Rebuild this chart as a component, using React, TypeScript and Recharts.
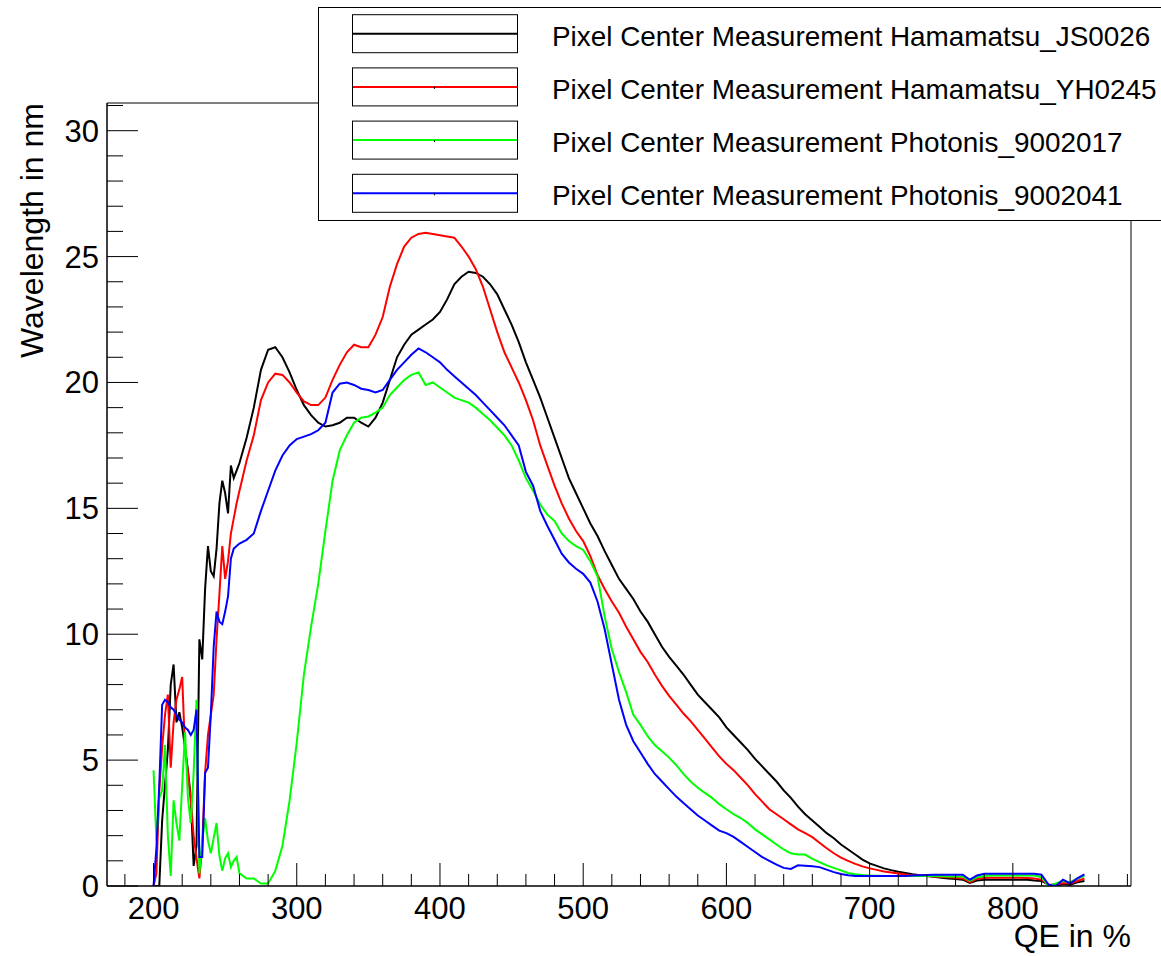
import { LineChart, Line, XAxis, YAxis, ReferenceArea, Legend } from 'recharts';

const FONT = '"Liberation Sans", Arial, Helvetica, sans-serif';

// wavelength grid (2 nm steps in the noisy UV part, 5 nm afterwards)
const wavelengths = [
  200, 202, 204, 206, 208, 210, 212, 214, 216, 218,
  220, 222, 224, 226, 228, 230, 232, 234, 236, 238,
  240, 242, 244, 246, 248, 250, 252, 254, 256, 258,
  260,
  265, 270, 275, 280, 285, 290, 295, 300, 305, 310,
  315, 320, 325, 330, 335, 340, 345, 350, 355, 360,
  365, 370, 375, 380, 385, 390, 395, 400, 405, 410,
  415, 420, 425, 430, 435, 440, 445, 450, 455, 460,
  465, 470, 475, 480, 485, 490, 495, 500, 505, 510,
  515, 520, 525, 530, 535, 540, 545, 550, 555, 560,
  565, 570, 575, 580, 585, 590, 595, 600, 605, 610,
  615, 620, 625, 630, 635, 640, 645, 650, 655, 660,
  665, 670, 675, 680, 685, 690, 695, 700, 705, 710,
  715, 720, 725, 730, 735, 740, 745, 750, 755, 760,
  765, 770, 775, 780, 785, 790, 795, 800, 805, 810,
  815, 820, 825, 830, 835, 840, 845, 850,
];

const hamamatsuJS0026 = [
  0, 0, 0, 2.6, 4.0, 5.4, 8.0, 8.8, 6.5, 6.9,
  6.3, 5.5, 4.6, 3.5, 0.8, 1.6, 9.8, 9.0, 11.8, 13.5,
  12.5, 12.3, 13.4, 15.2, 16.1, 15.6, 14.8, 16.7, 16.2, 16.5,
  16.8,
  17.8, 19.0, 20.5, 21.3, 21.4, 21.0, 20.4, 19.7, 19.1, 18.7,
  18.4, 18.25, 18.3, 18.4, 18.6, 18.6, 18.4, 18.25, 18.6, 19.2,
  20.1, 21.0, 21.5, 21.9, 22.1, 22.3, 22.5, 22.8, 23.3, 23.9,
  24.2, 24.4, 24.35, 24.2, 23.9, 23.5, 22.9, 22.3, 21.6, 20.8,
  20.1, 19.4, 18.6, 17.8, 17.0, 16.2, 15.6, 15.0, 14.4, 13.9,
  13.3, 12.75, 12.2, 11.8, 11.4, 10.9, 10.5, 10.0, 9.5, 9.1,
  8.75, 8.4, 8.0, 7.6, 7.3, 7.0, 6.7, 6.3, 6.0, 5.7,
  5.4, 5.05, 4.75, 4.45, 4.15, 3.8, 3.5, 3.15, 2.85, 2.6,
  2.35, 2.1, 1.9, 1.65, 1.45, 1.25, 1.05, 0.9, 0.8, 0.7,
  0.63, 0.57, 0.52, 0.47, 0.43, 0.4, 0.37, 0.33, 0.3, 0.28,
  0.25, 0.12, 0.22, 0.25, 0.25, 0.25, 0.25, 0.25, 0.25, 0.25,
  0.22, 0.2, 0.05, 0.0, 0.08, 0.05, 0.15, 0.2,
];

const hamamatsuYH0245 = [
  0, 0.5, 3.8, 5.5, 6.8, 7.6, 4.7, 6.5, 7.4, 7.8,
  8.3, 5.4, 4.5, 3.4, 2.0, 1.1, 0.3, 1.6, 4.5, 6.0,
  6.8, 7.6, 9.8, 11.6, 13.5, 12.2, 12.9, 14.0, 14.6, 15.2,
  15.7,
  16.9, 17.9, 19.3, 20.0, 20.35, 20.3, 20.0, 19.6, 19.25, 19.1,
  19.1, 19.4, 20.1, 20.7, 21.2, 21.5, 21.4, 21.4, 21.9, 22.6,
  23.8, 24.7, 25.4, 25.75, 25.9, 25.95, 25.9, 25.85, 25.8, 25.75,
  25.4, 25.0, 24.5, 23.8, 22.9, 22.0, 21.2, 20.6, 20.0, 19.3,
  18.5, 17.5, 16.7, 15.9, 15.2, 14.6, 14.1, 13.7, 13.1, 12.35,
  11.8, 11.3, 10.85, 10.3, 9.8, 9.3, 8.9, 8.4, 7.95, 7.55,
  7.2, 6.85, 6.55, 6.2, 5.85, 5.5, 5.15, 4.85, 4.6, 4.3,
  4.0, 3.65, 3.35, 3.05, 2.85, 2.65, 2.45, 2.25, 2.1, 1.94,
  1.72, 1.5, 1.3, 1.13, 1.0, 0.88, 0.78, 0.7, 0.64, 0.58,
  0.54, 0.5, 0.46, 0.43, 0.42, 0.4, 0.38, 0.36, 0.35, 0.33,
  0.3, 0.15, 0.28, 0.32, 0.33, 0.33, 0.33, 0.33, 0.33, 0.32,
  0.3, 0.25, 0.05, 0.05, 0.12, 0.1, 0.2, 0.3,
];

const photonis9002017 = [
  4.6, 1.8, 3.5, 3.8, 5.6, 2.0, 0.4, 3.4, 2.5, 1.8,
  4.0, 6.1, 3.5, 2.5, 4.5, 7.4, 0.5, 1.8, 2.7, 1.8,
  1.3, 1.9, 2.5, 1.2, 0.6, 1.1, 1.3, 0.75, 1.0, 1.15,
  0.5,
  0.3, 0.3, 0.1, 0.1, 0.6, 1.6, 3.4, 5.7, 8.4, 10.3,
  12.0, 14.1, 16.1, 17.3, 17.9, 18.4, 18.6, 18.65, 18.8, 19.0,
  19.5, 19.8, 20.1, 20.3, 20.4, 19.9, 20.0, 19.8, 19.6, 19.4,
  19.3, 19.2, 19.0, 18.75, 18.5, 18.2, 17.9, 17.5, 16.9, 16.2,
  15.7, 15.15, 14.75, 14.5, 14.0, 13.7, 13.5, 13.35, 12.9, 12.3,
  10.7, 9.4, 8.5, 7.7, 6.8, 6.4, 5.95, 5.6, 5.35, 5.1,
  4.8, 4.45, 4.15, 3.9, 3.7, 3.5, 3.25, 3.05, 2.85, 2.7,
  2.5, 2.25, 2.05, 1.85, 1.65, 1.45, 1.3, 1.25, 1.25, 1.08,
  0.95, 0.82, 0.72, 0.62, 0.52, 0.47, 0.44, 0.42, 0.41, 0.4,
  0.4, 0.4, 0.4, 0.4, 0.4, 0.4, 0.4, 0.39, 0.38, 0.38,
  0.38, 0.2, 0.35, 0.4, 0.42, 0.42, 0.42, 0.42, 0.42, 0.42,
  0.42, 0.35, 0.0, 0.1, 0.2, 0.15, 0.3, 0.4,
];

const photonis9002041 = [
  0, 1.5, 4.0, 7.2, 7.4, 7.3, 7.1, 7.0, 6.8, 6.6,
  6.5, 6.3, 6.2, 6.0, 6.2, 7.0, 1.15, 1.15, 4.5, 4.7,
  6.8, 9.5, 10.9, 10.5, 10.4, 10.9, 11.5, 13.0, 13.4, 13.5,
  13.6,
  13.75, 14.0, 14.9, 15.7, 16.5, 17.1, 17.5, 17.75, 17.85, 17.95,
  18.1, 18.4, 19.6, 19.95, 20.0, 19.9, 19.75, 19.7, 19.6, 19.7,
  20.1, 20.5, 20.8, 21.1, 21.35, 21.2, 21.0, 20.8, 20.5, 20.25,
  20.0, 19.75, 19.5, 19.2, 18.9, 18.6, 18.3, 17.9, 17.5, 16.45,
  15.9, 14.9, 14.3, 13.75, 13.2, 12.85, 12.6, 12.4, 12.05, 11.3,
  10.2, 8.8, 7.4, 6.4, 5.75, 5.3, 4.85, 4.45, 4.15, 3.85,
  3.55, 3.3, 3.05, 2.8, 2.6, 2.4, 2.2, 2.1, 1.95, 1.75,
  1.55, 1.35, 1.15, 1.0, 0.85, 0.72, 0.68, 0.82, 0.8, 0.78,
  0.75, 0.65, 0.55, 0.48, 0.43, 0.4, 0.4, 0.4, 0.4, 0.4,
  0.4, 0.4, 0.4, 0.42, 0.43, 0.44, 0.45, 0.45, 0.45, 0.45,
  0.45, 0.25, 0.42, 0.49, 0.49, 0.49, 0.49, 0.49, 0.49, 0.49,
  0.49, 0.45, 0.05, 0.0, 0.25, 0.1, 0.3, 0.46,
];

const xTicks = [
  180, 200, 220, 240, 260, 280, 300, 320, 340, 360, 380, 400, 420, 440, 460, 480,
  500, 520, 540, 560, 580, 600, 620, 640, 660, 680, 700, 720, 740, 760, 780, 800,
  820, 840, 860, 880,
];
const yTicks = [
  0, 1, 2, 3, 4, 5, 6, 7, 8, 9, 10, 11, 12, 13, 14, 15, 16, 17, 18, 19, 20,
  21, 22, 23, 24, 25, 26, 27, 28, 29, 30, 31,
];

const X_DOMAIN: [number, number] = [167.5, 882.5];
const Y_DOMAIN: [number, number] = [0, 31.1];

const series = [
  { key: 'js0026', name: 'Pixel Center Measurement Hamamatsu_JS0026', color: '#000000', values: hamamatsuJS0026 },
  { key: 'yh0245', name: 'Pixel Center Measurement Hamamatsu_YH0245', color: '#ff0000', values: hamamatsuYH0245 },
  { key: 'p2017', name: 'Pixel Center Measurement Photonis_9002017', color: '#00ff00', values: photonis9002017 },
  { key: 'p2041', name: 'Pixel Center Measurement Photonis_9002041', color: '#0000ff', values: photonis9002041 },
];

const data = wavelengths.map((wl, i) => {
  const row: Record<string, number> = { wl };
  series.forEach((s) => {
    row[s.key] = s.values[i];
  });
  return row;
});

const W = 1161;
const H = 956;
const PLOT_LEFT = 107;
const PLOT_TOP = 103;
const PLOT_RIGHT = 1131;
const PLOT_BOTTOM = 886;

function XTick(props: any) {
  const { x, y, payload } = props;
  const major = payload.value % 100 === 0;
  return (
    <g>
      <line x1={x} x2={x} y1={y} y2={y - (major ? 23 : 12)} stroke="#000" strokeWidth={1} />
      {major && (
        <text x={x} y={y + 33} textAnchor="middle" fontSize={31} fontFamily={FONT} fill="#000">
          {payload.value}
        </text>
      )}
    </g>
  );
}

function YTick(props: any) {
  const { x, y, payload } = props;
  const major = payload.value % 5 === 0;
  return (
    <g>
      <line x1={x} x2={x + (major ? 31 : 16)} y1={y} y2={y} stroke="#000" strokeWidth={1} />
      {major && (
        <text x={x - 8} y={y + 11} textAnchor="end" fontSize={31} fontFamily={FONT} fill="#000">
          {payload.value}
        </text>
      )}
    </g>
  );
}

function LegendBox() {
  const rowGap = 53.2;
  const firstRow = 26.7;
  return (
    <svg width={W - 318} height={215} style={{ display: 'block' }}>
      <rect x={0.5} y={0.5} width={900} height={213} fill="#fff" stroke="#000" strokeWidth={1} />
      {series.map((s, i) => {
        const cy = firstRow + i * rowGap;
        return (
          <g key={s.key}>
            <rect x={34.5} y={cy - 19} width={165} height={38} fill="#fff" stroke="#000" strokeWidth={1} />
            <line x1={35} x2={199} y1={cy} y2={cy} stroke={s.color} strokeWidth={2} />
            {i > 0 && <rect x={116} y={cy} width={1} height={2} fill="#000" />}
            <text x={234} y={cy + 12} fontSize={27.9} fontFamily={FONT} fill="#000">
              {s.name}
            </text>
          </g>
        );
      })}
    </svg>
  );
}

export default function App() {
  return (
    <div style={{ position: 'absolute', left: 0, top: 0, width: W, height: H, background: '#fff' }}>
      <LineChart
        width={W}
        height={H}
        data={data}
        margin={{ top: PLOT_TOP, right: W - PLOT_RIGHT, bottom: 0, left: 0 }}
      >
        <XAxis
          dataKey="wl"
          type="number"
          domain={X_DOMAIN}
          ticks={xTicks}
          interval={0}
          allowDataOverflow
          height={H - PLOT_BOTTOM}
          tickSize={0}
          tickMargin={0}
          tick={<XTick />}
          axisLine={{ stroke: '#000', strokeWidth: 1 }}
          tickLine={false}
        />
        <YAxis
          type="number"
          domain={Y_DOMAIN}
          ticks={yTicks}
          interval={0}
          allowDataOverflow
          width={PLOT_LEFT}
          tickSize={0}
          tickMargin={0}
          tick={<YTick />}
          axisLine={{ stroke: '#000', strokeWidth: 1 }}
          tickLine={false}
        />
        <ReferenceArea
          x1={X_DOMAIN[0]}
          x2={X_DOMAIN[1]}
          y1={Y_DOMAIN[0]}
          y2={Y_DOMAIN[1]}
          fill="none"
          stroke="#000"
          strokeWidth={1}
          fillOpacity={0}
        />
        {series.map((s) => (
          <Line
            key={s.key}
            type="linear"
            dataKey={s.key}
            name={s.name}
            stroke={s.color}
            strokeWidth={2}
            dot={false}
            activeDot={false}
            isAnimationActive={false}
          />
        ))}
        <Legend
          layout="horizontal"
          verticalAlign="middle"
          align="center"
          content={() => <LegendBox />}
          wrapperStyle={{ position: 'absolute', left: 318, top: 7, width: W - 318, height: 215 }}
        />
        <text x={PLOT_RIGHT} y={947} textAnchor="end" fontSize={32} fontFamily={FONT} fill="#000">
          QE in %
        </text>
        <text
          x={43}
          y={PLOT_TOP}
          transform={`rotate(-90 43 ${PLOT_TOP})`}
          textAnchor="end"
          fontSize={32}
          fontFamily={FONT}
          fill="#000"
        >
          Wavelength in nm
        </text>
      </LineChart>
    </div>
  );
}
